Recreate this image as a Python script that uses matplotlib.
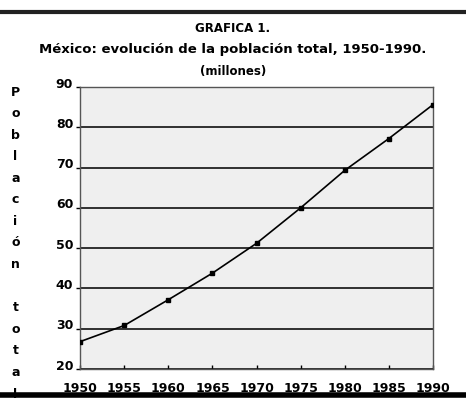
import matplotlib
matplotlib.use("Agg")
import matplotlib.pyplot as plt
import matplotlib.transforms as mtransforms

years = [1950, 1955, 1960, 1965, 1970, 1975, 1980, 1985, 1990]
population = [26.8, 30.8, 37.2, 43.8, 51.2, 60.0, 69.3, 77.2, 85.6]
yticks = [20, 30, 40, 50, 60, 70, 80, 90]
ylabel_letters = list("Población") + [""] + list("total")

plt.rcParams['font.family'] = ['DejaVu Sans']
fig = plt.figure(figsize=(4.66, 4.0), dpi=100)
ax = fig.add_axes([0.172, 0.0775, 0.757, 0.705])
ax.set_facecolor('#efefef')
ax.set_xlim(1950, 1990)
ax.set_ylim(20, 90)
ax.set_yticks(yticks)
ax.set_xticks(years)
for y in yticks:
    ax.axhline(y, color='#222222', lw=1.3, zorder=1)
ax.plot(years, population, color='black', lw=1.2, marker='s', ms=3.5, zorder=3)
for s in ax.spines.values():
    s.set_color('#555555')
    s.set_linewidth(1.0)
ax.tick_params(axis='y', length=3, width=1, direction='out', labelsize=9, pad=2)
ax.tick_params(axis='x', length=3, width=1, direction='in', labelsize=9, pad=9)
for lab in ax.get_xticklabels() + ax.get_yticklabels():
    lab.set_fontweight('bold')
offset = mtransforms.ScaledTranslation(0, 0.045, fig.dpi_scale_trans)
for lab in ax.get_yticklabels():
    lab.set_transform(lab.get_transform() + offset)

fig.text(0.5, 0.93, "GRAFICA 1.", ha='center', va='center', fontsize=8.5, fontweight='bold')
fig.text(0.5, 0.875, "México: evolución de la población total, 1950-1990.", ha='center', va='center', fontsize=9.5, fontweight='bold')
fig.text(0.5, 0.822, "(millones)", ha='center', va='center', fontsize=8.5, fontweight='bold')

n = len(ylabel_letters)
top_y, bot_y = 0.775, 0.01
for i, ch in enumerate(ylabel_letters):
    yy = top_y - i * (top_y - bot_y - 0.01) / (n - 1) - 0.005
    fig.text(0.033, yy, ch, ha='center', va='center', fontsize=9, fontweight='bold')

fig.add_artist(plt.Line2D([0, 1], [0.97, 0.97], color='#222222', lw=3, transform=fig.transFigure))
fig.add_artist(plt.Line2D([0, 1], [0.012, 0.012], color='black', lw=4, transform=fig.transFigure))

fig.savefig("out.png", dpi=100)
